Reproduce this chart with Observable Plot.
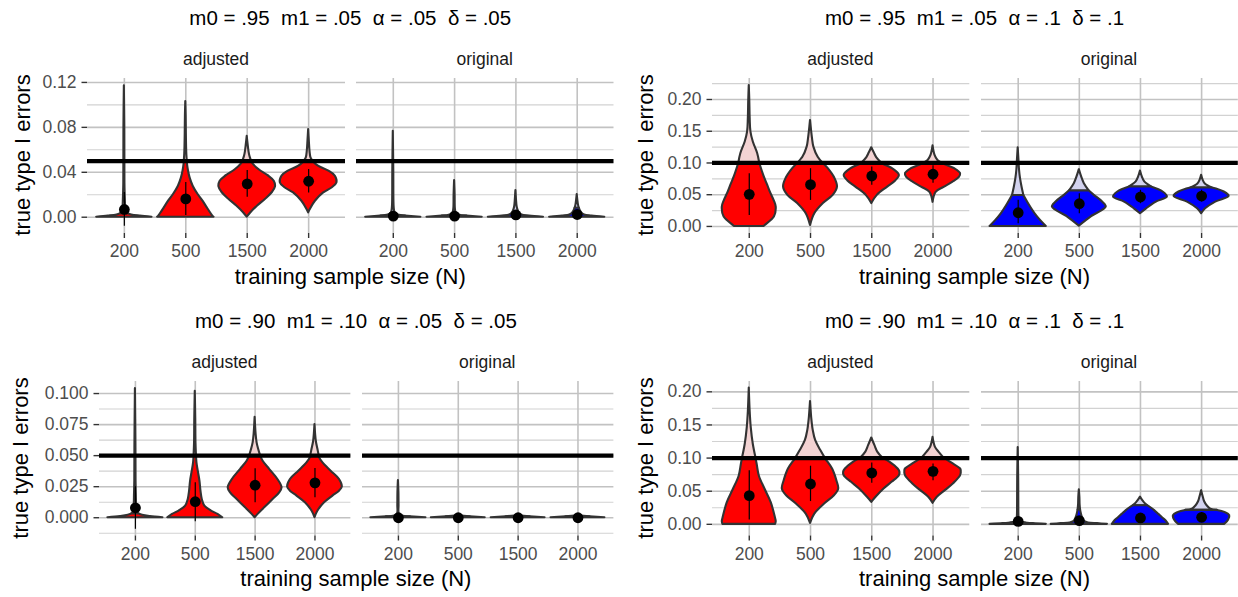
<!DOCTYPE html>
<html><head><meta charset="utf-8">
<script src="https://cdn.jsdelivr.net/npm/d3@7"></script>
<script src="https://cdn.jsdelivr.net/npm/@observablehq/plot@0.6"></script>
<style>
body{margin:0;background:#fff;}
#root{position:relative;width:1238px;height:597px;overflow:hidden;font-family:"Liberation Sans",Arial,sans-serif;background:#fff;}
.t{position:absolute;white-space:pre;transform:translate(-50%,-50%);line-height:1;}
.plot{position:absolute;overflow:visible;}
</style></head><body><div id="root"></div>
<script>
// ---------------- data ----------------
const sizeLabels = ["200", "500", "1500", "2000"];
const facetLabels = ["adjusted", "original"];
const panelTitles = [
  "m0 = .95  m1 = .05  α = .05  δ = .05",
  "m0 = .95  m1 = .05  α = .1  δ = .1",
  "m0 = .90  m1 = .10  α = .05  δ = .05",
  "m0 = .90  m1 = .10  α = .1  δ = .1"
];
const thresholds = [0.05, 0.1, 0.05, 0.1];
const xTitle = "training sample size (N)";
const yTitle = "true type I errors";

const yMajor1 = [0, 0.04, 0.08, 0.12];
const yMinor1 = [0.02, 0.06, 0.10];
const yMajor2 = [0, 0.05, 0.10, 0.15, 0.20];
const yMinor2 = [0.025, 0.075, 0.125, 0.175, 0.225];
const yMajor3 = [0, 0.025, 0.05, 0.075, 0.10];
const yMinor3 = [-0.0125, 0.0125, 0.0375, 0.0625, 0.0875];
const yMajor4 = [0, 0.05, 0.10, 0.15, 0.20];
const yMinor4 = [0.025, 0.075, 0.125, 0.175];

// violins: [facet, size index, fill cutoff, profile [[value, half width], ...]]
const violins1 = [
  [0, 0, 0.003, [[0,.45],[.001,.26],[.002,.12],[.003,.06],[.005,.03],[.01,.02],[.016,.016],[.022,.012],[.03,.009],[.05,.008],[.08,.007],[.117,0]]],
  [0, 1, 0.05, [[0,.46],[.001,.44],[.0033,.41],[.0083,.35],[.0143,.28],[.0202,.2],[.0276,.12],[.035,.07],[.041,.045],[.047,.028],[.05,.024],[.055,.018],[.062,.013],[.075,.009],[.09,.006],[.103,0]]],
  [0, 2, 0.05, [[0,0],[.004,.06],[.01,.17],[.016,.3],[.022,.41],[.027,.46],[.032,.44],[.037,.34],[.042,.2],[.047,.1],[.05,.07],[.054,.045],[.058,.03],[.065,.014],[.072,0]]],
  [0, 3, 0.05, [[.0038,0],[.0069,.027],[.0142,.11],[.0216,.245],[.026,.38],[.0305,.46],[.0365,.435],[.041,.33],[.0454,.16],[.0492,.08],[.05,.07],[.0528,.038],[.0588,.022],[.0677,.011],[.078,0]]],
  [1, 0, 0.001, [[0,.45],[.001,.2],[.002,.08],[.004,.03],[.008,.015],[.015,.01],[.04,.008],[.0766,0]]],
  [1, 1, 0.001, [[0,.45],[.001,.2],[.002,.07],[.004,.025],[.008,.012],[.02,.008],[.0327,0]]],
  [1, 2, 0.004, [[0,.45],[.001,.22],[.002,.1],[.004,.05],[.007,.03],[.01,.018],[.015,.01],[.0237,0]]],
  [1, 3, 0.008, [[0,.45],[.001,.24],[.002,.12],[.004,.07],[.008,.035],[.011,.02],[.015,.01],[.0202,0]]]
];
const mean1 = [.0069, .0163, .0297, .032, .001, .001, .002, .0024];
const lo1 = [-.008, .0015, .0178, .0216, 0, 0, 0, 0];
const hi1 = [.022, .031, .0416, .0425, .004, .003, .005, .006];

const violins2 = [
  [0, 0, 0.1, [[0,.245],[.0016,.26],[.0147,.41],[.0305,.44],[.04,.41],[.0516,.355],[.065,.3],[.078,.245],[.0937,.19],[.1,.17],[.115,.137],[.133,.066],[.149,.027],[.17,.015],[.2,.008],[.222,0]]],
  [0, 1, 0.1, [[.0016,0],[.02,.07],[.036,.21],[.049,.37],[.062,.44],[.0753,.4],[.091,.29],[.1,.2],[.109,.125],[.125,.055],[.138,.033],[.15,.018],[.167,0]]],
  [0, 2, 0.1, [[.036,0],[.049,.09],[.062,.26],[.0716,.39],[.0806,.45],[.0895,.36],[.0979,.19],[.1,.16],[.1085,.08],[.116,.04],[.124,0]]],
  [0, 3, 0.1, [[.038,0],[.0537,.05],[.0616,.18],[.0695,.32],[.0774,.43],[.0832,.45],[.0906,.36],[.0958,.23],[.1,.14],[.104,.08],[.112,.033],[.127,0]]],
  [1, 0, 0.0488, [[0,.46],[.0095,.365],[.0195,.28],[.035,.175],[.0488,.093],[.061,.065],[.0753,.038],[.0885,.022],[.105,.012],[.124,0]]],
  [1, 1, 0.0558, [[.0005,0],[.0148,.19],[.0306,.44],[.0385,.38],[.049,.245],[.0558,.164],[.0674,.082],[.078,.038],[.0895,0]]],
  [1, 2, 0.0622, [[.02,0],[.0278,.1],[.0384,.26],[.0464,.44],[.0543,.37],[.0622,.18],[.0701,.07],[.078,.03],[.0874,0]]],
  [1, 3, 0.0606, [[.02,0],[.0278,.065],[.0384,.23],[.0474,.45],[.0543,.37],[.0606,.175],[.0664,.065],[.0727,.025],[.0806,0]]]
];
const mean2 = [.0506, .0658, .0795, .0822, .0216, .0358, .0464, .0479];
const lo2 = [.0174, .041, .0648, .068, .0042, .02, .0358, .0384];
const hi2 = [.083, .091, .0937, .0958, .0411, .0516, .0569, .0569];

const violins3 = [
  [0, 0, 0.003, [[0,.46],[.001,.25],[.002,.12],[.003,.06],[.005,.03],[.01,.02],[.019,.015],[.03,.01],[.06,.008],[.104,0]]],
  [0, 1, 0.05, [[0,.46],[.0027,.38],[.0054,.27],[.0094,.16],[.0147,.117],[.0214,.095],[.0295,.078],[.0375,.05],[.0442,.028],[.05,.02],[.06,.012],[.08,.008],[.1018,0]]],
  [0, 2, 0.05, [[0,0],[.0027,.05],[.008,.16],[.0147,.3],[.02,.41],[.0241,.45],[.0308,.38],[.0388,.245],[.0455,.134],[.05,.09],[.0549,.06],[.0603,.033],[.067,.017],[.0809,0]]],
  [0, 3, 0.05, [[0,0],[.0054,.05],[.012,.16],[.0174,.3],[.0214,.41],[.0246,.456],[.0308,.41],[.0375,.27],[.0442,.134],[.0482,.078],[.05,.07],[.0549,.05],[.0616,.022],[.075,0]]],
  [1, 0, 0.0008, [[0,.46],[.0008,.2],[.0015,.06],[.003,.015],[.01,.01],[.02,.008],[.03,0]]],
  [1, 1, 0.0008, [[0,.45],[.0008,.2],[.0015,0]]],
  [1, 2, 0.0008, [[0,.45],[.0008,.2],[.0015,0]]],
  [1, 3, 0.0008, [[0,.45],[.0008,.2],[.0015,0]]]
];
const mean3 = [.008, .0129, .0262, .0281, 0, 0, 0, 0];
const lo3 = [-.0093, -.0032, .0121, .0161, 0, 0, 0, 0];
const hi3 = [.025, .0281, .0394, .0396, 0, 0, 0, 0];

const violins4 = [
  [0, 0, 0.1, [[0,.43],[.004,.44],[.0124,.42],[.0324,.36],[.0525,.26],[.0726,.165],[.09,.13],[.1,.11],[.1212,.065],[.1464,.032],[.17,.015],[.2058,0]]],
  [0, 1, 0.1, [[.0015,0],[.0155,.07],[.0306,.23],[.0431,.39],[.0532,.46],[.0658,.43],[.0834,.36],[.097,.26],[.1,.24],[.111,.17],[.1262,.085],[.1414,.045],[.16,.02],[.1852,0]]],
  [0, 2, 0.1, [[.0332,0],[.0408,.07],[.0533,.2],[.0634,.33],[.0735,.45],[.0785,.46],[.0835,.43],[.0936,.3],[.1,.18],[.1087,.1],[.1187,.052],[.1303,0]]],
  [0, 3, 0.1, [[.0317,0],[.0408,.07],[.0508,.2],[.0609,.33],[.0735,.45],[.0811,.46],[.0835,.45],[.0911,.33],[.1,.18],[.1087,.1],[.1162,.04],[.1313,0]]],
  [1, 0, 0.002, [[0,.46],[.001,.25],[.002,.12],[.003,.06],[.005,.03],[.01,.015],[.03,.01],[.07,.008],[.116,0]]],
  [1, 1, 0.0217, [[0,.46],[.001,.3],[.002,.15],[.004,.09],[.008,.06],[.015,.035],[.0217,.02],[.03,.012],[.04,.009],[.052,0]]],
  [1, 2, 0.028, [[0,.46],[.005,.42],[.01,.36],[.015,.3],[.02,.24],[.025,.17],[.028,.12],[.032,.07],[.036,.035],[.041,0]]],
  [1, 3, 0.021, [[0,.38],[.006,.44],[.0133,.46],[.018,.38],[.021,.26],[.023,.15],[.028,.09],[.034,.05],[.04,.03],[.0508,0]]]
];
const mean4 = [.0433, .0609, .0775, .08, .0044, .0056, .0096, .0106];
const lo4 = [.0066, .0344, .0619, .0659, 0, 0, .003, .004];
const hi4 = [.0807, .0877, .0926, .0911, .012, .012, .016, .018];

// ---------------- layout (pixels) ----------------
const panels = [
  {violins: violins1, mean: mean1, lo: lo1, hi: hi1, major: yMajor1, minor: yMinor1, fmt: ".2f", domain: [-0.0145, 0.1235],
   facets: [[87, 345], [356, 613.5]], top: 77.5, bottom: 232.5, yTitleX: 22.5},
  {violins: violins2, mean: mean2, lo: lo2, hi: hi2, major: yMajor2, minor: yMinor2, fmt: ".2f", domain: [-0.0111, 0.2331],
   facets: [[711.7, 969], [980.6, 1237.4]], top: 77.5, bottom: 232.5, yTitleX: 645.5},
  {violins: violins3, mean: mean3, lo: lo3, hi: hi3, major: yMajor3, minor: yMinor3, fmt: ".3f", domain: [-0.0147, 0.1097],
   facets: [[98.8, 350.2], [361.6, 613]], top: 380.5, bottom: 535, yTitleX: 21},
  {violins: violins4, mean: mean4, lo: lo4, hi: hi4, major: yMajor4, minor: yMinor4, fmt: ".2f", domain: [-0.0176, 0.2156],
   facets: [[711.7, 969], [980.6, 1237.4]], top: 380.5, bottom: 535, yTitleX: 645.5}
];
const fillLow = ["#ff0000", "#0000ff"];
const fillHigh = ["#f3d3d3", "#d3d3ef"];

const root = document.getElementById("root");
function addText(txt, x, y, size, color, rotate) {
  const d = document.createElement("div");
  d.className = "t";
  d.textContent = txt;
  d.style.left = x + "px";
  d.style.top = y + "px";
  d.style.fontSize = size + "px";
  d.style.color = color;
  if (rotate) d.style.transform = "translate(-50%,-50%) rotate(-90deg)";
  root.appendChild(d);
}

panels.forEach((p, pi) => {
  const left = p.facets[0][0], right = p.facets[1][1];
  const cx = (left + right) / 2;
  addText(panelTitles[pi], cx, p.top - 59.5, 20.5, "#000");
  addText(xTitle, cx, p.bottom + 44, 22, "#000");
  addText(yTitle, p.yTitleX, (p.top + p.bottom) / 2, 22, "#000", true);

  p.facets.forEach(([L, R], f) => {
    addText(facetLabels[f], (L + R) / 2, p.top - 17.5, 17.5, "#1a1a1a");
    const mL = f === 0 ? 80 : 0;
    const mT = 10, mB = 40;
    const W = R - L, H = p.bottom - p.top;
    const idx = [0, 1, 2, 3].map(k => f * 4 + k);
    const marks = [
      Plot.ruleY(p.minor, {stroke: "#d2d2d2", strokeWidth: 1.1}),
      Plot.ruleY(p.major, {stroke: "#c2c2c2", strokeWidth: 1.6}),
      Plot.ruleX([1, 2, 3, 4], {stroke: "#c2c2c2", strokeWidth: 1.6})
    ];
    for (const [vf, k, cut, prof] of p.violins) {
      if (vf !== f) continue;
      const pos = k + 1;
      const rows = prof.map(([v, hw]) => ({v, hw, pos}));
      const low = rows.filter(r => r.v <= cut);
      const high = rows.filter(r => r.v >= cut);
      const opts = fill => ({y: "v", x1: d => d.pos - d.hw, x2: d => d.pos + d.hw, fill,
        stroke: "#333333", strokeWidth: 2.1, strokeLinejoin: "round", curve: "catmull-rom"});
      if (high.length > 1) marks.push(Plot.areaX(high, opts(fillHigh[f])));
      if (low.length > 1) marks.push(Plot.areaX(low, opts(fillLow[f])));
    }
    marks.push(Plot.ruleY([thresholds[pi]], {stroke: "#000", strokeWidth: 4.2}));
    marks.push(Plot.ruleX(idx, {x: i => (i % 4) + 1, y1: i => p.lo[i], y2: i => p.hi[i], stroke: "#000", strokeWidth: 1.2}));
    marks.push(Plot.dot(idx, {x: i => (i % 4) + 1, y: i => p.mean[i], r: 5.4, fill: "#000", stroke: "none"}));
    marks.push(Plot.axisX({ticks: [1, 2, 3, 4], tickFormat: d => sizeLabels[d - 1], tickSize: 5, tickPadding: 6.5,
      fontSize: 17.5, stroke: "#333", fill: "#4d4d4d", strokeWidth: 1.4, label: null}));
    if (f === 0) {
      marks.push(Plot.axisY({ticks: p.major, tickFormat: d3.format(p.fmt), tickSize: 5.5, tickPadding: 5.5,
        fontSize: 17.5, stroke: "#333", fill: "#4d4d4d", strokeWidth: 1.4, label: null}));
    }
    const svg = Plot.plot({
      width: W + mL, height: H + mT + mB,
      marginLeft: mL, marginRight: 0, marginTop: mT, marginBottom: mB,
      x: {domain: [0.4, 4.6], axis: null},
      y: {domain: p.domain, axis: null},
      style: {fontFamily: "'Liberation Sans', Arial, sans-serif", background: "transparent", overflow: "visible"},
      marks
    });
    svg.classList.add("plot");
    svg.style.left = (L - mL) + "px";
    svg.style.top = (p.top - mT) + "px";
    root.appendChild(svg);
  });
});
</script></body></html>
